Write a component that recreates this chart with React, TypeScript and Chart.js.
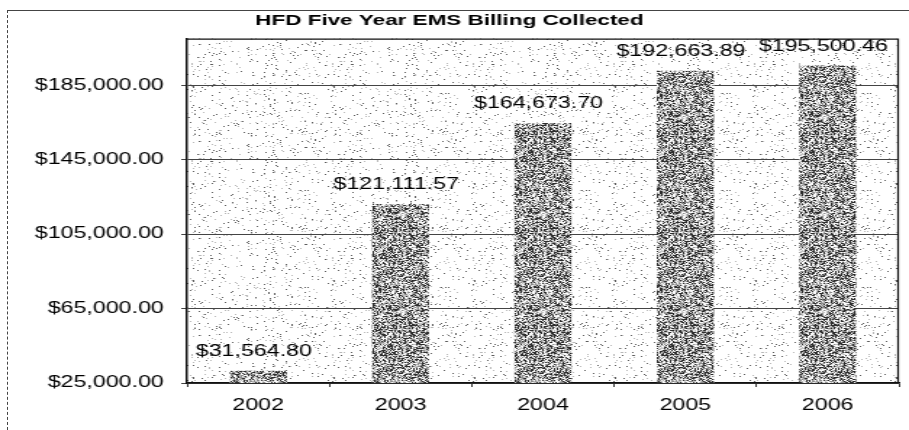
import React, { useEffect, useRef } from "react";
import { Chart, registerables } from "chart.js";

Chart.register(...registerables);

const categories = ["2002", "2003", "2004", "2005", "2006"];
const collected = [31564.8, 121111.57, 164673.7, 192663.89, 195500.46];
const yTickValues = [25000, 65000, 105000, 145000, 185000];
const yMin = 25000;
const yMax = 210000;
const titleText = "HFD Five Year EMS Billing Collected";

const STRETCH = 1.45;
const CW = Math.round(909 / STRETCH);
const CH = 430;

const fmt = (v: number) =>
  "$" + Number(v).toLocaleString("en-US", { minimumFractionDigits: 2, maximumFractionDigits: 2 });

function hash(x: number, y: number, s: number) {
  let h = (Math.imul(x, 374761393) + Math.imul(y, 668265263) + Math.imul(s, 2246822519)) | 0;
  h = Math.imul(h ^ (h >>> 13), 1274126177);
  h = h ^ (h >>> 16);
  return (h >>> 0) / 4294967296;
}

function makePattern(dense: boolean): CanvasPattern | string {
  const size = 97;
  const c = document.createElement("canvas");
  c.width = size;
  c.height = size;
  const g = c.getContext("2d");
  if (!g) return dense ? "#888" : "#fff";
  const img = g.createImageData(size, size);
  for (let y = 0; y < size; y++) {
    for (let x = 0; x < size; x++) {
      const r = hash(x, y, dense ? 7 : 3);
      let v = 255;
      if (dense) {
        if (r < 0.3) v = 45;
        else if (r < 0.52) v = 140;
        else if (r < 0.72) v = 195;
        else v = 250;
      } else {
        if (r < 0.028) v = 95;
        else if (r < 0.055) v = 185;
        else v = 255;
      }
      const i = (y * size + x) * 4;
      img.data[i] = v;
      img.data[i + 1] = v;
      img.data[i + 2] = v;
      img.data[i + 3] = 255;
    }
  }
  g.putImageData(img, 0, 0);
  return g.createPattern(c, "repeat") || (dense ? "#888" : "#fff");
}

export default function App() {
  const ref = useRef<HTMLCanvasElement | null>(null);

  useEffect(() => {
    const canvas = ref.current;
    if (!canvas) return;
    const barPattern = makePattern(true);
    const bgPattern = makePattern(false);
    const font = "'Liberation Sans', Arial, sans-serif";

    const plugin = {
      id: "scanStyle",
      beforeDraw(chart: any) {
        const { ctx, chartArea: a } = chart;
        ctx.save();
        ctx.fillStyle = "#fff";
        ctx.fillRect(0, 0, chart.width, chart.height);
        ctx.fillStyle = bgPattern;
        ctx.fillRect(a.left, a.top, a.right - a.left, a.bottom - a.top);
        ctx.restore();
      },
      afterDatasetsDraw(chart: any) {
        const { ctx } = chart;
        const meta = chart.getDatasetMeta(0);
        ctx.save();
        ctx.font = "16px " + font;
        ctx.fillStyle = "#000";
        ctx.textAlign = "center";
        ctx.textBaseline = "middle";
        meta.data.forEach((bar: any, i: number) => {
          ctx.fillText(fmt(collected[i]), bar.x - 3, bar.y - 19);
        });
        ctx.restore();
      },
      afterDraw(chart: any) {
        const { ctx, chartArea: a } = chart;
        ctx.save();
        ctx.strokeStyle = "#111";
        ctx.lineWidth = 1.2;
        ctx.beginPath();
        ctx.moveTo(a.left, a.top + 0.5);
        ctx.lineTo(a.right, a.top + 0.5);
        ctx.moveTo(a.right - 0.5, a.top);
        ctx.lineTo(a.right - 0.5, a.bottom);
        ctx.stroke();
        ctx.restore();
      },
    };

    const chart = new Chart(canvas, {
      type: "bar",
      data: {
        labels: categories,
        datasets: [
          {
            label: "Collected",
            data: collected,
            backgroundColor: barPattern as any,
            borderWidth: 0,
            categoryPercentage: 1,
            barPercentage: 0.4,
          },
        ],
      },
      options: {
        responsive: false,
        animation: false,
        devicePixelRatio: 1,
        layout: { padding: { left: 0, right: 7, top: 0, bottom: 0 } },
        plugins: {
          legend: { display: false },
          tooltip: { enabled: false },
          title: {
            display: true,
            text: titleText,
            color: "#000",
            font: { family: font, size: 15.5, weight: "bold" },
            padding: { top: 11, bottom: 9 },
          },
        },
        scales: {
          x: {
            offset: true,
            grid: {
              offset: true,
              drawOnChartArea: false,
              drawTicks: true,
              tickLength: 4,
              color: "#333",
            },
            border: { display: true, color: "#111", width: 1.5 },
            ticks: {
              color: "#000",
              font: { family: font, size: 16 },
              padding: 9,
            },
            afterFit: (scale: any) => {
              scale.height = 47;
            },
          },
          y: {
            min: yMin,
            max: yMax,
            afterBuildTicks: (scale: any) => {
              scale.ticks = yTickValues.map((v) => ({ value: v }));
            },
            afterFit: (scale: any) => {
              scale.width = 129;
            },
            grid: {
              color: "#444",
              lineWidth: 1,
              drawTicks: true,
              tickLength: 4,
            },
            border: { display: true, color: "#111", width: 1.5 },
            ticks: {
              color: "#000",
              font: { family: font, size: 16 },
              padding: 12,
              callback: (v: any) => fmt(Number(v)),
            },
          },
        },
      },
      plugins: [plugin],
    } as any);

    return () => chart.destroy();
  }, []);

  return (
    <div style={{ position: "absolute", left: 0, top: 0, width: 909, height: 430, overflow: "hidden", background: "#fff" }}>
      <canvas
        ref={ref}
        width={CW}
        height={CH}
        style={{
          position: "absolute",
          left: 0,
          top: 0,
          width: CW,
          height: CH,
          display: "block",
          transform: `scaleX(${909 / CW})`,
          transformOrigin: "0 0",
        }}
      />
      <div
        style={{
          position: "absolute",
          left: 7,
          top: 10,
          width: 902,
          height: 420,
          borderTop: "1px solid #444",
          borderLeft: "1px dashed #444",
          boxSizing: "border-box",
          pointerEvents: "none",
        }}
      />
    </div>
  );
}
